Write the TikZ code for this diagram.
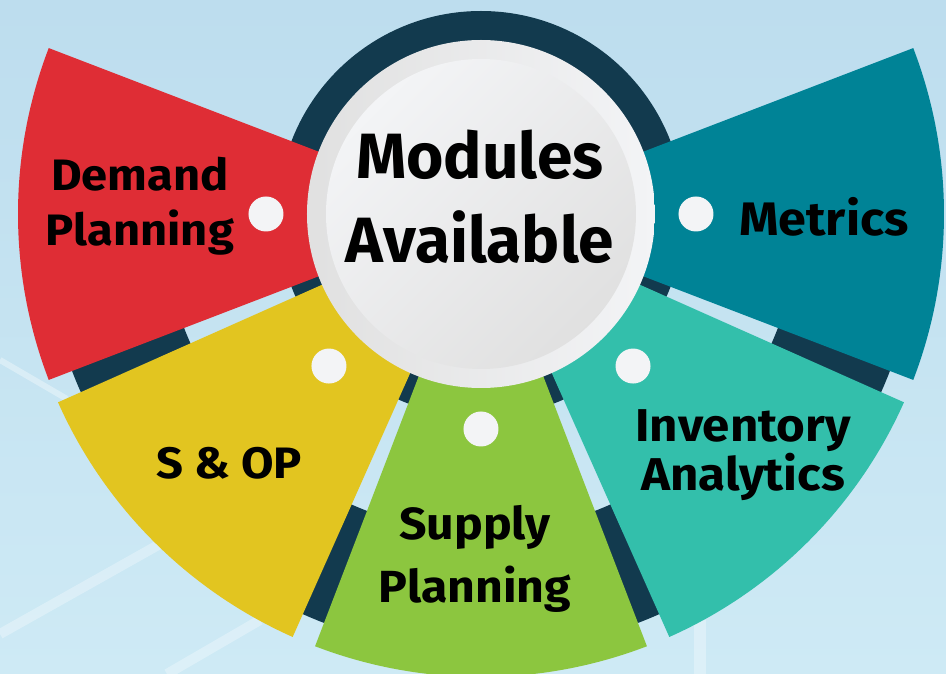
\documentclass[tikz,border=0pt]{standalone}
\usepackage{fontspec}
\setmainfont{Fira Sans}
\newfontfamily\widefont{Fira Sans}[FakeStretch=1.07]
\usetikzlibrary{calc}
\definecolor{skytop}{HTML}{BDDDEE}
\definecolor{skybot}{HTML}{CEEAF5}
\definecolor{navy}{HTML}{123A4E}
\definecolor{demand}{HTML}{DF2D35}
\definecolor{sop}{HTML}{E2C520}
\definecolor{supply}{HTML}{8CC63F}
\definecolor{invent}{HTML}{33BFAB}
\definecolor{metric}{HTML}{008396}
\definecolor{dot}{HTML}{F3F4F6}

\begin{document}
\begin{tikzpicture}[x=1pt,y=1pt]
      \tikzset{mark coordinate/.style={inner sep=0pt,
          outer sep=0pt,
          minimum size=35pt,
          fill=#1,
          circle},
        label text/.style={font=\widefont\bfseries\fontsize{44}{55}\selectfont,
          align=center, text=black, inner sep=0pt}
      }
      \useasboundingbox (-481,-460) rectangle (465,214);
      \shade [top color=skytop, bottom color=skybot] (-481,-460) rectangle (465,214);
      % faint light streaks in the background
      \draw [white, opacity=0.35, line width=6pt] (-481,-146) -- (-414,-185);
      \draw [white, opacity=0.3, line width=10pt] (-481,-420) -- (-321,-330);
      \draw [white, opacity=0.3, line width=10pt] (-314,-460) -- (-221,-406);
      \draw [white, opacity=0.3, line width=12pt] (219,-406) -- (219,-460);

      \coordinate (O) at (0,0);
      \fill [navy] (O) circle (203);
      \fill [navy] (-195:318) arc (-195:15:318) -- (15:438) arc (15:-195:438) -- cycle;

      \fill [demand] (O) -- (159:463) arc (159:201:463) -- cycle;
      \fill [sop] (O) -- (204:463) arc (204:246:463) -- cycle;
      \fill [supply] (O) -- (249:463) arc (249:291:463) -- cycle;
      \fill [invent] (O) -- (294:463) arc (294:336:463) -- cycle;
      \fill [metric] (O) -- (-21:463) arc (-21:21:463) -- cycle;

      \shade [top color=black!12, bottom color=dot, shading angle=90] (O) circle (174);
      \shade [top color=dot, bottom color=black!12, shading angle=45] (O) circle (155);

      \node [mark coordinate=dot] (d1) at (180:215) {};
      \node [mark coordinate=dot] (d2) at (225:215) {};
      \node [mark coordinate=dot] (d3) at (270:215) {};
      \node [mark coordinate=dot] (d4) at (315:215) {};
      \node [mark coordinate=dot] (d5) at (0:215) {};

      \node [label text, font=\bfseries\fontsize{64}{84}\selectfont] (M) at (-1,17) {Modules\\Available};
      \node [label text] (D) at (-341,8) {Demand\\Planning};
      \node [label text] (S) at (-252,-249) {S \& OP};
      \node [label text, font=\widefont\bfseries\fontsize{45}{63}\selectfont] (P) at (-6,-345) {Supply\\Planning};
      \node [label text, font=\widefont\bfseries\fontsize{46}{46}\selectfont] (I) at (262,-241) {Inventory\\Analytics};
      \node [label text, font=\widefont\bfseries\fontsize{47}{54}\selectfont] (X) at (343,-3) {Metrics};
    \end{tikzpicture}
\end{document}
